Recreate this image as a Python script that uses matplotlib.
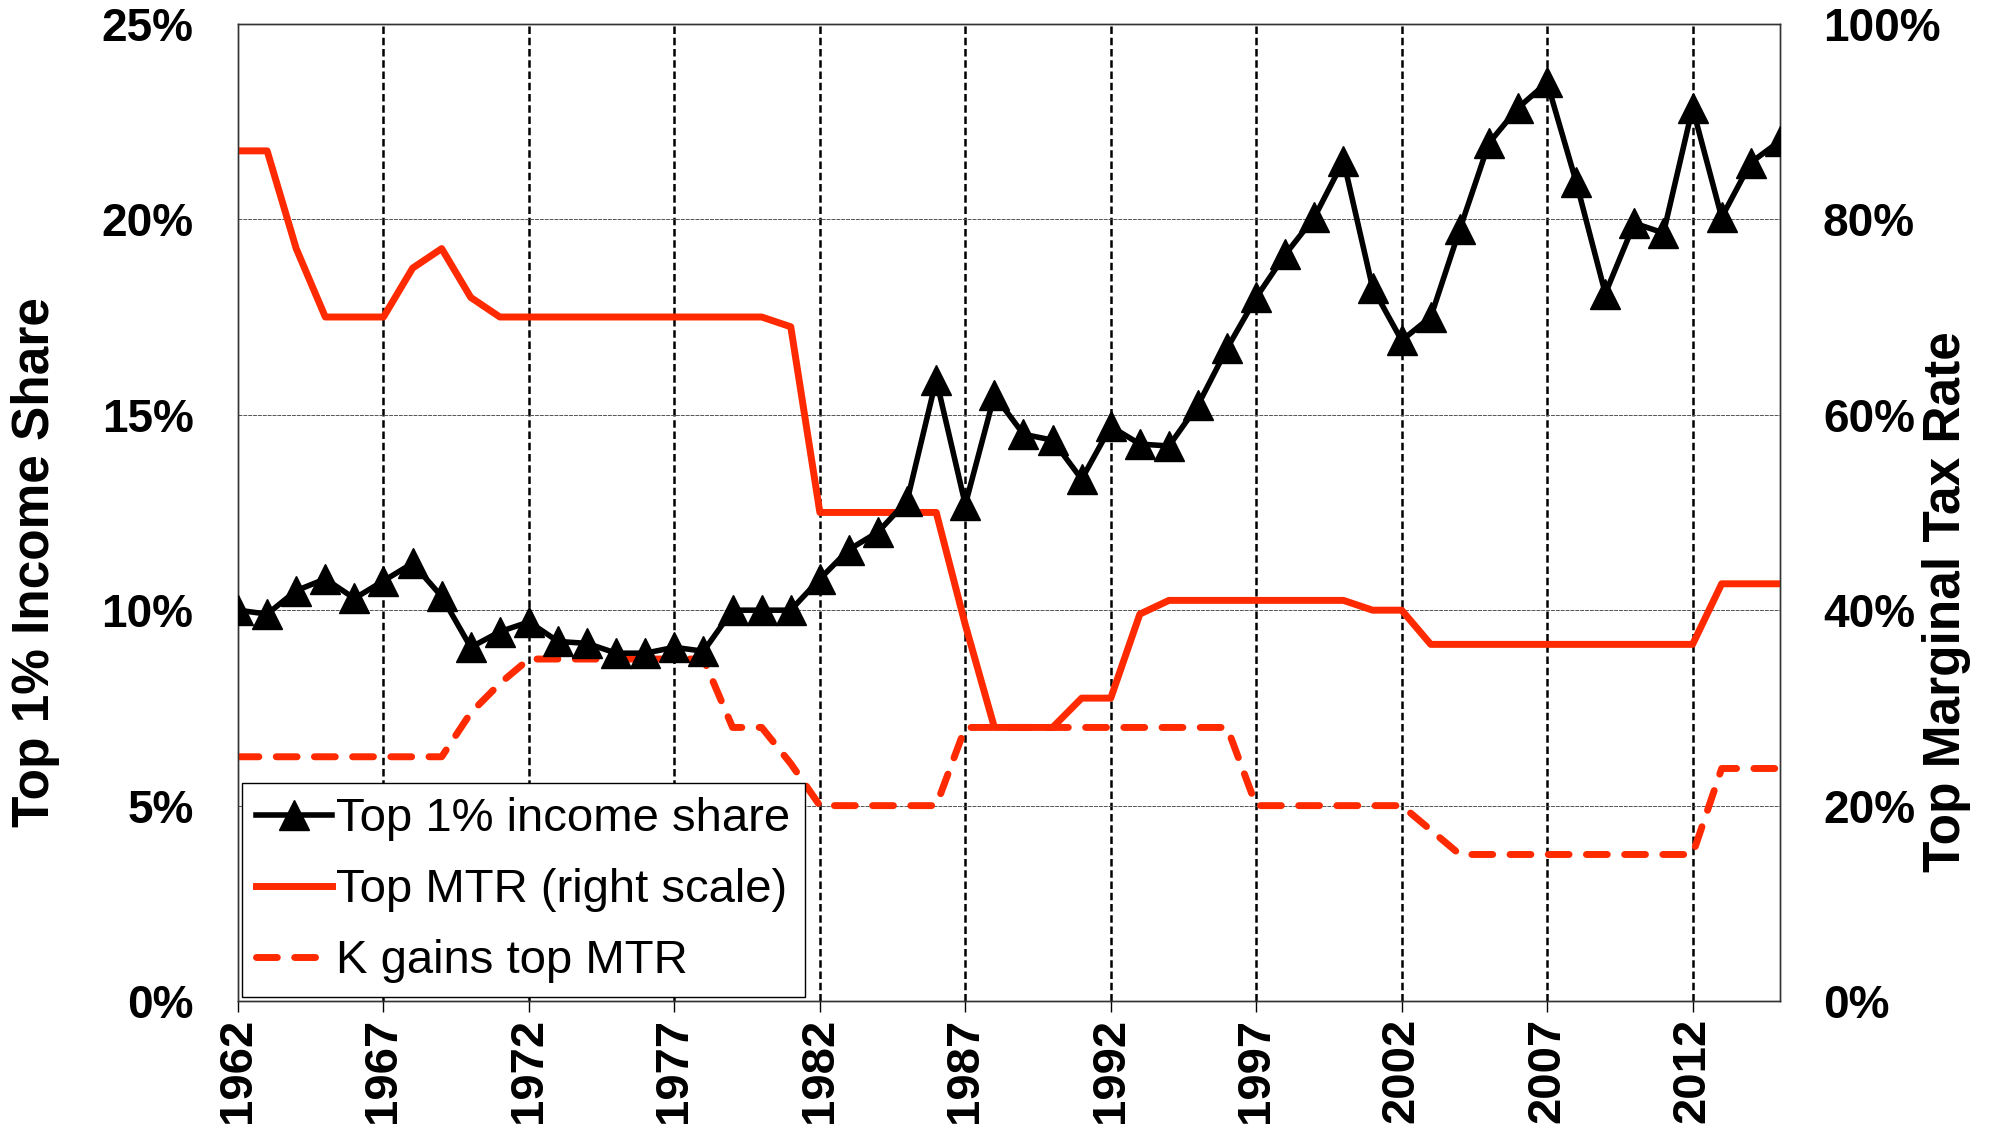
import matplotlib
matplotlib.use("Agg")
import matplotlib.pyplot as plt
from matplotlib.ticker import FuncFormatter
from matplotlib.lines import Line2D

plt.rcParams["font.family"] = ["Liberation Sans", "DejaVu Sans"]

# Years 1962-2015
years = list(range(1962, 2016))

# Top 1% income share (%), left scale
top1_share = [
    10.0, 9.9, 10.5, 10.8, 10.3, 10.75, 11.2, 10.35, 9.05, 9.45,
    9.7, 9.2, 9.15, 8.9, 8.9, 9.05, 8.95, 10.0, 10.0, 10.0,
    10.8, 11.55, 12.0, 12.8, 15.9, 12.7, 15.5, 14.5, 14.35, 13.35,
    14.7, 14.25, 14.2, 15.25, 16.7, 18.0, 19.1, 20.05, 21.5, 18.25,
    16.9, 17.5, 19.75, 21.95, 22.85, 23.5, 20.95, 18.1, 19.9, 19.65,
    22.85, 20.05, 21.45, 22.0,
]

# Top marginal tax rate (%), right scale
top_mtr = [
    87, 87, 77, 70, 70, 70, 75, 77, 72, 70,
    70, 70, 70, 70, 70, 70, 70, 70, 70, 69,
    50, 50, 50, 50, 50, 38.5, 28, 28, 28, 31,
    31, 39.6, 41, 41, 41, 41, 41, 41, 41, 40,
    40, 36.5, 36.5, 36.5, 36.5, 36.5, 36.5, 36.5, 36.5, 36.5,
    36.5, 42.7, 42.7, 42.7,
]

# Capital gains top marginal tax rate (%), right scale
kgains_mtr = [
    25, 25, 25, 25, 25, 25, 25, 25, 29.5, 32.5,
    35, 35, 35, 35, 35, 35, 35, 28, 28, 24.3,
    20, 20, 20, 20, 20, 28, 28, 28, 28, 28,
    28, 28, 28, 28, 28, 20, 20, 20, 20, 20,
    20, 17.5, 15, 15, 15, 15, 15, 15, 15, 15,
    15, 23.8, 23.8, 23.8,
]

xticks = list(range(1962, 2013, 5))
left_ticks = [0, 5, 10, 15, 20, 25]
right_ticks = [0, 20, 40, 60, 80, 100]

RED = "#ff2a00"
DASH = (0, (3, 2.5))

fig = plt.figure(figsize=(19.92, 11.35), dpi=100)
ax2 = fig.add_axes([0.1195, 0.118, 0.774, 0.861])
ax = ax2.twinx()
# primary (black) series on top of red ones
ax2.set_zorder(1)
ax.set_zorder(2)
ax.patch.set_visible(False)

ax.yaxis.tick_left()
ax.yaxis.set_label_position("left")
ax2.yaxis.tick_right()
ax2.yaxis.set_label_position("right")

ax2.plot(years, top_mtr, color=RED, linewidth=5.0, zorder=3)
ax2.plot(years, kgains_mtr, color=RED, linewidth=5.0, linestyle=DASH,
         dash_capstyle="round", zorder=3)
ax.plot(years, top1_share, color="black", linewidth=4.0, marker="^",
        markersize=21, markerfacecolor="black", markeredgecolor="black", zorder=4)

ax2.set_xlim(1962, 2015)
ax.set_xlim(1962, 2015)
ax.set_ylim(0, 25)
ax2.set_ylim(0, 100)

# grids on the bottom axes
for x in xticks[1:]:
    ax2.axvline(x, color="black", linewidth=1.8, linestyle=(0, (3, 1.5)), zorder=1)
for y in right_ticks[1:-1]:
    ax2.axhline(y, color="#555555", linewidth=0.7, linestyle=(0, (4, 1)), zorder=1)

ax2.set_xticks(xticks)
ax2.set_xticklabels([str(x) for x in xticks], rotation=90, fontsize=34, fontweight="bold")
ax2.tick_params(axis="x", direction="out", length=8, width=1, pad=4)
ax.tick_params(axis="x", length=0, labelbottom=False)

ax.set_yticks(left_ticks)
ax.yaxis.set_major_formatter(FuncFormatter(lambda v, p: f"{v:.0f}%"))
ax.tick_params(axis="y", length=0, pad=32, labelsize=33)
for t in ax.get_yticklabels():
    t.set_fontweight("bold")

ax2.set_yticks(right_ticks)
ax2.yaxis.set_major_formatter(FuncFormatter(lambda v, p: f"{v:.0f}%"))
ax2.tick_params(axis="y", length=0, pad=31, labelsize=33)
for t in ax2.get_yticklabels():
    t.set_fontweight("bold")

for a in (ax, ax2):
    for s in a.spines.values():
        s.set_color("#333333")
        s.set_linewidth(1.0)

fig.text(0.018, 0.505, "Top 1% Income Share", rotation=90, ha="center", va="center",
         fontsize=37, fontweight="bold")
fig.text(0.977, 0.470, "Top Marginal Tax Rate", rotation=90, ha="center", va="center",
         fontsize=37, fontweight="bold")

handles = [
    Line2D([0], [0], color="black", linewidth=4.0, marker="^", markersize=21),
    Line2D([0], [0], color=RED, linewidth=5.0),
    Line2D([0], [0], color=RED, linewidth=5.0, linestyle=DASH, dash_capstyle="round"),
]
labels = ["Top 1% income share", "Top MTR (right scale)", "K gains top MTR"]
leg = ax.legend(handles, labels, loc="lower left", fontsize=34, frameon=True, fancybox=False,
                framealpha=1, edgecolor="black", handlelength=1.6, handletextpad=0.1,
                borderaxespad=0.08, borderpad=0.3, labelspacing=0.57)
leg.get_frame().set_linewidth(1.0)
leg.set_zorder(10)

fig.savefig("out.png", dpi=100)
